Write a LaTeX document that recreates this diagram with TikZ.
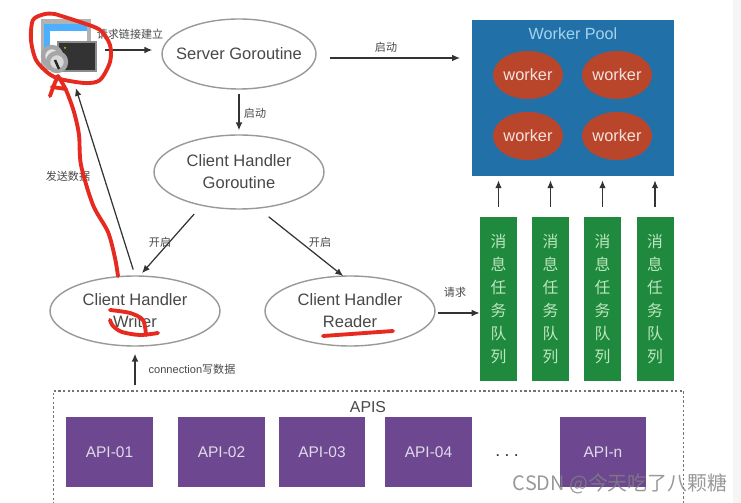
\documentclass[tikz,border=0pt]{standalone}
\usepackage{fontspec}
\setmainfont{Liberation Sans}
\newfontfamily\cjk{Noto Sans CJK SC}
\usetikzlibrary{shapes.geometric, arrows.meta}

\definecolor{inkgray}{HTML}{484848}
\definecolor{rimgray}{HTML}{999999}
\definecolor{poolblue}{HTML}{2270A8}
\definecolor{poolsky}{HTML}{A5D3EE}
\definecolor{workerred}{HTML}{B9452B}
\definecolor{queuegreen}{HTML}{1F8A3E}
\definecolor{queuemint}{HTML}{BCE6BE}
\definecolor{apipurple}{HTML}{6D4891}
\definecolor{penred}{HTML}{E62A20}

\tikzset{
    routine/.style={draw=rimgray, thick, ellipse, inner sep=0, text=inkgray,
        minimum width=3.4cm, minimum height=1.4cm, align=center,
        font=\fontsize{9.4}{12.5}\selectfont},
    worker/.style={ellipse, fill=workerred, inner sep=0, text=white!85!workerred,
        minimum width=1.4cm, minimum height=0.96cm,
        font=\fontsize{9.3}{11}\selectfont},
    queue/.style={rectangle, fill=queuegreen, inner sep=0, text=queuemint,
        minimum width=0.74cm, minimum height=3.28cm, align=center,
        font=\cjk\fontsize{9}{13}\selectfont},
    api/.style={rectangle, fill=apipurple, inner sep=0, text=white!80!apipurple,
        minimum width=1.73cm, minimum height=1.4cm,
        font=\fontsize{8.8}{11}\selectfont},
    note/.style={text=inkgray, inner sep=0, font=\cjk\fontsize{6.3}{8}\selectfont},
    conn/.style={->, >={Latex[length=4.5pt, width=3.8pt]}, black!80, line width=0.7pt},
    pen/.style={penred, line width=2.2pt, line cap=round, line join=round},
}

\begin{document}
\begin{tikzpicture}[x=0.02cm, y=-0.02cm]
    \clip (0, 0) rectangle (741, 503);
    \fill[white] (0, 0) rectangle (741, 503);
    \fill[black!4] (733, 0) rectangle (741, 503);

    % key icon in the corner
    \node[minimum width=1.12cm, minimum height=1.2cm, inner sep=0] (icon) at (68, 50) {};
    \fill[black!30] (41, 19) rectangle (91, 70);
    \fill[blue!45!cyan!70!white] (44, 24) rectangle (87, 60);
    \fill[white] (50, 31) rectangle (87, 60);
    \draw[black!45, line width=1pt, fill=black!80] (58, 42) rectangle (96, 71);
    \fill[yellow!70!green] (65, 48) circle (1);
    \draw[black!35, line width=2.5pt, fill=white!90!black] (52, 56) circle (9);
    \draw[black!35, line width=2.5pt, fill=white!85!black] (57, 62) circle (9);
    \draw[black!85, line width=1.4pt] (55, 60) -- (59, 69);

    % goroutines
    \node[routine, minimum width=3.08cm, inner xsep=-0.17cm] (server) at (239, 54)
        {Server Goroutine};
    \node[routine, minimum height=1.48cm] (client) at (239, 172)
        {Client Handler\\Goroutine};
    \node[routine] (writer) at (135, 311) {Client Handler\\Writer};
    \node[routine] (reader) at (350, 311) {Client Handler\\Reader};

    % pool and its workers
    \node[rectangle, fill=poolblue, minimum width=4.04cm, minimum height=3.12cm,
        inner sep=0] (pool) at (573, 98) {};
    \node[text=poolsky, font=\fontsize{9.2}{11}\selectfont, inner sep=0] (pool-title)
        at (573, 34) {Worker Pool};
    \node[worker] (worker-1) at (528, 75) {worker};
    \node[worker] (worker-2) at (617, 75) {worker};
    \node[worker] (worker-3) at (528, 136) {worker};
    \node[worker] (worker-4) at (617, 136) {worker};

    % message queues
    \foreach \i/\x in {1/498.5, 2/550.5, 3/602.5, 4/655} {
        \node[queue] (queue-\i) at (\x, 299) {消\\息\\任\\务\\队\\列};
        \draw[conn, shorten <=0.2cm, shorten >=0.08cm] (queue-\i.north)
            -- (queue-\i.north |- pool.south);
    }

    % API box
    \node[draw=black!55, dash pattern=on 1.3pt off 1.3pt, line width=0.6pt,
        minimum width=12.62cm, minimum height=2.6cm, inner sep=0] (apis) at (368.5, 456) {};
    \node[text=inkgray, font=\fontsize{9}{11}\selectfont, inner sep=0] (apis-title)
        at (368, 407) {APIS};
    \node[api] (api-01) at (109.5, 452) {API-01};
    \node[api] (api-02) at (221.5, 452) {API-02};
    \node[api] (api-03) at (322, 452) {API-03};
    \node[api] (api-04) at (428.5, 452) {API-04};
    \node[text=black!80, font=\fontsize{10}{11}\selectfont, inner sep=0] (api-dots)
        at (507, 456) {.\hspace{2.5pt}.\hspace{2.5pt}.};
    \node[api] (api-n) at (603, 452) {API-n};

    % connectors
    \coordinate (server-out) at (316, 58);
    \coordinate (pool-in) at (472, 58);
    \draw[conn, shorten <=0.18cm, shorten >=0.18cm] (icon.east) -- (icon.east -| server.west);
    \draw[conn, shorten <=0.28cm, shorten >=0.24cm] (server-out) -- (pool-in);
    \draw[conn, shorten <=0.08cm, shorten >=0.08cm] (server) -- (client);
    \draw[conn, shorten <=0.22cm, shorten >=0.06cm] (client.222) -- (writer.82);
    \draw[conn, shorten <=0.26cm, shorten >=-0.02cm] (client.298) -- (reader.102);
    \draw[conn, shorten <=0.12cm, shorten >=0.16cm] (writer.north) -- (icon.280);
    \draw[conn, shorten <=0.04cm, shorten >=0cm] (reader.east |- 0, 313) -- (queue-1.west |- 0, 313);
    \draw[conn, shorten <=0.1cm, shorten >=0.14cm] (apis.north -| writer.south) -- (writer.south);

    % connector labels
    \node[note] (note-connect) at (130, 34) {请求链接建立};
    \node[note] (note-start-1) at (386, 47) {启动};
    \node[note] (note-start-2) at (255, 113) {启动};
    \node[note] (note-open-1) at (160, 242) {开启};
    \node[note] (note-open-2) at (320, 242) {开启};
    \node[note] (note-send) at (68, 176) {发送数据};
    \node[note] (note-request) at (455, 292) {请求};
    \node[note] (note-write) at (192, 369) {\fontspec{Liberation Sans}connection{\cjk 写数据}};

    % pen marks on top
    \draw[pen] plot[smooth] coordinates {(55, 14) (45, 14) (33, 20) (31, 40) (36, 60)
        (48, 73) (60, 79) (85, 83) (100, 80) (110, 62) (110, 45) (100, 30) (80, 22) (55, 14)};
    \draw[pen] plot[smooth] coordinates {(58, 76) (54, 85) (50, 96)};
    \draw[pen] plot[smooth] coordinates {(58, 76) (66, 90) (74, 112) (79, 135) (81, 165)
        (93, 205) (108, 232) (115, 258) (118, 276)};
    \draw[pen] (52, 87) -- (66, 89);
    \draw[pen] plot[smooth] coordinates {(110, 310) (130, 313) (143, 320) (146, 335)};
    \draw[pen] plot[smooth] coordinates {(110, 320) (113, 326) (122, 332) (140, 335) (158, 333)};
    \draw[pen] (323, 336) -- (393, 331);

    % watermark
    \node[text=black!50, opacity=0.8, font=\cjk\fontsize{11.3}{14}\selectfont, inner sep=0]
        (watermark) at (620, 484) {CSDN @今天吃了八颗糖};
\end{tikzpicture}
\end{document}
